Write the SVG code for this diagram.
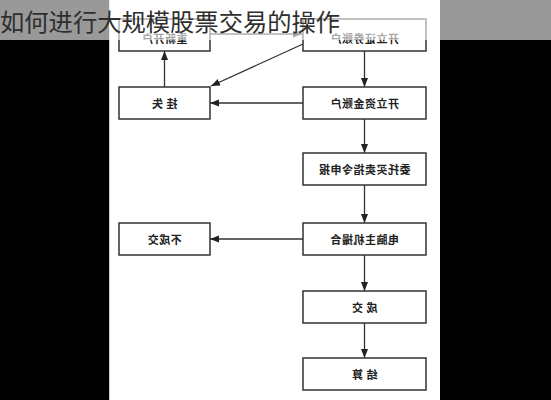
<svg xmlns="http://www.w3.org/2000/svg" width="551" height="400" viewBox="0 0 551 400">
<style>
.box{fill:#fff;stroke:#333;stroke-width:1.5}
.lbl{font-family:"Noto Sans CJK SC","Noto Sans",sans-serif;font-size:11px;font-weight:bold;fill:#222;text-anchor:middle;dominant-baseline:central;letter-spacing:0.5px}
.con{stroke:#333;stroke-width:1.3;fill:none;marker-end:url(#ah)}
.title{font-family:"Noto Sans CJK SC","Noto Sans",sans-serif;font-size:24.3px;fill:#2e2e2e}
</style>
<defs>
<marker id="ah" markerUnits="userSpaceOnUse" markerWidth="10" markerHeight="8" refX="9" refY="3.5" orient="auto">
<path d="M0,0 L9,3.5 L0,7 z" fill="#222"/>
</marker>
</defs>
<rect x="0" y="0" width="551" height="400" fill="#000"/>
<rect x="109" y="0" width="331" height="400" fill="#fff"/>
<line x1="109.5" y1="0" x2="109.5" y2="400" stroke="#ccc" stroke-width="1"/>
<g id="n_reopen">
<rect class="box" x="119" y="19" width="91" height="32"/>
<text class="lbl" transform="translate(164.5,38) scale(-1,1)">重新开户</text>
</g>
<g id="n_sec_account">
<rect class="box" x="303" y="19" width="123" height="32"/>
<text class="lbl" transform="translate(364.5,38) scale(-1,1)">开立证券账户</text>
</g>
<g id="n_loss">
<rect class="box" x="119" y="87" width="91" height="32"/>
<text class="lbl" transform="translate(164.5,103) scale(-1,1)">挂  失</text>
</g>
<g id="n_fund_account">
<rect class="box" x="303" y="87" width="123" height="32"/>
<text class="lbl" transform="translate(364.5,103) scale(-1,1)">开立资金账户</text>
</g>
<g id="n_order">
<rect class="box" x="303" y="153" width="123" height="32"/>
<text class="lbl" transform="translate(364.5,169) scale(-1,1)">委托买卖指令申报</text>
</g>
<g id="n_match">
<rect class="box" x="303" y="223" width="123" height="32"/>
<text class="lbl" transform="translate(364.5,239) scale(-1,1)">电脑主机撮合</text>
</g>
<g id="n_nodeal">
<rect class="box" x="119" y="223" width="91" height="32"/>
<text class="lbl" transform="translate(164.5,239) scale(-1,1)">不成交</text>
</g>
<g id="n_deal">
<rect class="box" x="303" y="291" width="123" height="32"/>
<text class="lbl" transform="translate(364.5,307) scale(-1,1)">成  交</text>
</g>
<g id="n_settle">
<rect class="box" x="303" y="358" width="123" height="32"/>
<text class="lbl" transform="translate(364.5,374) scale(-1,1)">结  算</text>
</g>
<g id="connectors">
<line class="con" x1="164.5" y1="87" x2="164.5" y2="51"/>
<line class="con" x1="210" y1="34" x2="302" y2="34"/>
<line class="con" x1="303" y1="44" x2="211" y2="86"/>
<line class="con" x1="364.5" y1="51" x2="364.5" y2="87"/>
<line class="con" x1="303" y1="103" x2="210" y2="103"/>
<line class="con" x1="364.5" y1="119" x2="364.5" y2="153"/>
<line class="con" x1="364.5" y1="185" x2="364.5" y2="223"/>
<line class="con" x1="303" y1="239" x2="210" y2="239"/>
<line class="con" x1="364.5" y1="255" x2="364.5" y2="291"/>
<line class="con" x1="364.5" y1="323" x2="364.5" y2="358"/>
</g>
<rect x="0" y="0" width="551" height="40" fill="#fff" fill-opacity="0.6"/>
<text class="title" x="0" y="31">如何进行大规模股票交易的操作</text>
</svg>
